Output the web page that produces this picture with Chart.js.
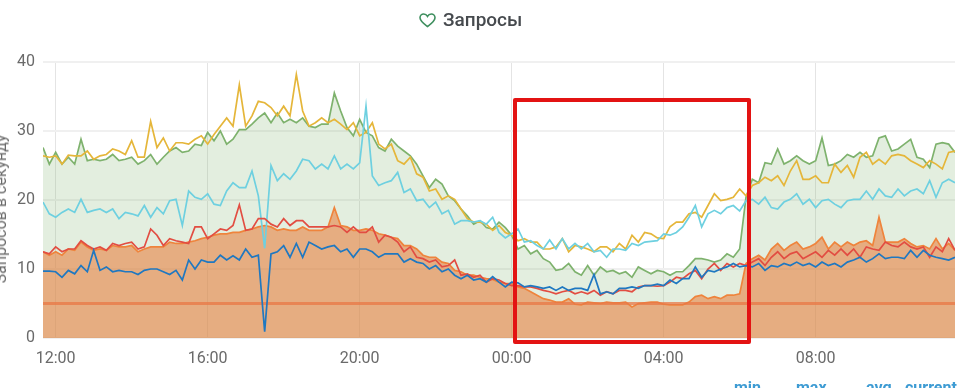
<!DOCTYPE html>
<html lang="ru">
<head>
<meta charset="utf-8">
<title>Запросы</title>
<script src="https://cdn.jsdelivr.net/npm/chart.js@4"></script>
<style>
    html, body { margin: 0; padding: 0; width: 969px; height: 388px; overflow: hidden; background: #fff; font-family: Roboto, sans-serif; }
    #chart-container { position: absolute; left: 0; top: 0; width: 969px; height: 388px; }
    #panel-title { position: absolute; left: 419px; top: 8px; display: flex; align-items: center; gap: 7px; font-size: 19px; font-weight: 500; color: #464a4e; line-height: 24px; }
    #axis-title { position: absolute; left: 1px; top: 209px; font-size: 16px; line-height: 18px; color: #6a6a6a; white-space: nowrap; transform: translate(-50%, -50%) rotate(-90deg); }
    #red-box { position: absolute; left: 513px; top: 98px; width: 230px; height: 238px; border: 4px solid #e31313; border-radius: 2px; }
    .legend-head { position: absolute; top: 379px; font-size: 16px; font-weight: 700; color: #3d9bd3; line-height: 18px; }
</style>
</head>
<body>
<div id="chart-container"><canvas id="mainChart"></canvas></div>
<div id="axis-title">Запросов в секунду</div>
<div id="panel-title">
    <svg width="17" height="15" viewBox="0 0 17 15"><path d="M8.5 13.6 C3 9.6 1 7.4 1 4.8 C1 2.6 2.7 1 4.7 1 C6.2 1 7.7 1.9 8.5 3.3 C9.3 1.9 10.8 1 12.3 1 C14.3 1 16 2.6 16 4.8 C16 7.4 14 9.6 8.5 13.6 Z" fill="none" stroke="#3f8f5f" stroke-width="1.6"/></svg>
    <span>Запросы</span>
</div>
<div id="red-box"></div>
<span class="legend-head" style="left: 734px;">min</span>
<span class="legend-head" style="left: 796px;">max</span>
<span class="legend-head" style="left: 866px;">avg</span>
<span class="legend-head" style="left: 905px;">current</span>
<script>
// minutes since 12:00, sampled every 10 minutes from 11:40
const sampleMinutes = [
    -20, -10, 0, 10, 20, 30, 40, 50, 60, 70, 80, 90, 100, 110, 120, 130, 140, 150, 160, 170,
    180, 190, 200, 210, 220, 230, 240, 250, 260, 270, 280, 290, 300, 310, 320, 330, 340, 350, 360, 370,
    380, 390, 400, 410, 420, 430, 440, 450, 460, 470, 480, 490, 500, 510, 520, 530, 540, 550, 560, 570,
    580, 590, 600, 610, 620, 630, 640, 650, 660, 670, 680, 690, 700, 710, 720, 730, 740, 750, 760, 770,
    780, 790, 800, 810, 820, 830, 840, 850, 860, 870, 880, 890, 900, 910, 920, 930, 940, 950, 960, 970,
    980, 990, 1000, 1010, 1020, 1030, 1040, 1050, 1060, 1070, 1080, 1090, 1100, 1110, 1120, 1130, 1140, 1150, 1160, 1170,
    1180, 1190, 1200, 1210, 1220, 1230, 1240, 1250, 1260, 1270, 1280, 1290, 1300, 1310, 1320, 1330, 1340, 1350, 1360, 1370,
    1380, 1390, 1400, 1410, 1420
];
const tickMinutes = [0, 240, 480, 720, 960, 1200];
const tickLabels = ['12:00', '16:00', '20:00', '00:00', '04:00', '08:00'];
const thresholdMinutes = [-20, 1420];
const thresholdValues = [5, 5];

const greenValues = [
    27.6, 25.2, 26.9, 25.2, 26.2, 25.2, 28.8, 25.7, 25.9, 25.7, 25.9, 26.6, 25.7, 25.9, 26.2, 25.2, 25.7, 26.6, 25.2, 26.2,
    27.1, 27.6, 26.9, 27.1, 28.1, 27.9, 29.8, 28.6, 30, 28.1, 28.8, 30.2, 30.2, 31, 31.9, 32.6, 31.2, 32.6, 31.2, 31.7,
    31.2, 31.9, 30.7, 30.5, 31, 31, 35.5, 32.9, 30.5, 29.3, 31.7, 29.8, 29.3, 27.6, 27.1, 28.8, 27.8, 27.1, 26.4, 25.2,
    23.5, 21.8, 23, 22.3, 20.6, 19.9, 18.7, 17.7, 16.5, 17, 16, 15.8, 16.8, 16, 14.9, 12.9, 13.4, 12.2, 12.7, 11.5,
    11, 9.8, 10, 10.8, 9.6, 9.1, 10.5, 9.1, 10.3, 9.6, 9.8, 9.3, 9.6, 8.8, 10.3, 9.8, 9.3, 9.8, 9.6, 9.1,
    9.6, 9.6, 10.5, 11.5, 11.5, 11.3, 11, 11.3, 12.2, 11.7, 12.9, 20.4, 23, 22.5, 25.4, 25.2, 27.4, 25.2, 25.7, 26.4,
    25.7, 25.2, 25.7, 29, 25, 25.2, 25.7, 26.6, 26.2, 26.9, 26.2, 26.4, 29, 29.3, 27.1, 27.4, 28.1, 28.8, 26.2, 25.9,
    24.7, 28.1, 28.3, 28.1, 26.9
];
const yellowValues = [
    26.4, 26.2, 26.4, 25.2, 26.5, 26.4, 26.4, 27.1, 25.9, 26.4, 26.6, 27.4, 27.1, 26.6, 28.6, 26.2, 26.2, 31.4, 27.6, 29,
    27.1, 28.3, 28.3, 28.1, 28.8, 29.3, 28.1, 29.5, 30.7, 31.9, 30.7, 36.7, 30.7, 32.2, 34.3, 34.1, 33.4, 32.2, 33.6, 32.2,
    38.2, 32.9, 30.7, 31.2, 31.9, 31.2, 31.7, 31, 30.2, 31.2, 29.3, 29.8, 31.2, 28.1, 27.4, 28.1, 25.7, 25.2, 26.2, 23.8,
    23.3, 21.3, 21.6, 20.1, 20.6, 20.1, 18.7, 17.3, 16.8, 16.8, 16.5, 15.6, 16.3, 15.3, 14.9, 14.1, 14.4, 13.9, 13.9, 12.9,
    12.9, 13.2, 14.4, 12.5, 13.4, 13.2, 12.9, 12.5, 13.2, 13.2, 12.5, 13.7, 12.9, 14.9, 13.9, 15.3, 15.1, 14.5, 14.4, 16.1,
    16.8, 16.8, 18, 18.2, 17.5, 19.2, 20.9, 19.9, 20.1, 20.4, 21.6, 20.6, 22.1, 22.5, 23.3, 22.8, 23.5, 22.1, 24.2, 25.7,
    23, 23, 23.5, 22.5, 22.5, 25.2, 24, 25, 23.3, 26.2, 26.9, 25.2, 25.9, 25.2, 26.4, 26.6, 26.4, 25.7, 25.2, 24.7,
    25.7, 25.2, 24.5, 26.9, 27.1
];
const cyanValues = [
    19.7, 18, 17.5, 18.2, 18.7, 18.2, 20.1, 18.2, 18.5, 18.7, 18.2, 18.7, 17.3, 18.2, 18, 17.7, 19.2, 17.5, 18.9, 18,
    19.9, 20.1, 16.3, 21.3, 20.4, 20.1, 20.9, 19.4, 19.2, 21.3, 22.5, 21.8, 21.8, 24.2, 20.6, 13, 25, 22.8, 23.8, 23,
    24.2, 25.9, 25.7, 24.5, 25.2, 24.5, 26.4, 24.5, 25.2, 24.5, 25.4, 33.6, 23.5, 22.1, 22.5, 22.8, 24, 21.1, 21.6, 19.9,
    20.1, 18.9, 19.7, 18, 18.5, 16.5, 17, 17, 16.8, 17, 16.5, 17.5, 15.3, 14.5, 15.1, 15.8, 13.9, 14.1, 13.4, 12.9,
    14.2, 12.9, 14.4, 12.9, 13.7, 12.9, 13.7, 12.5, 12.7, 11.7, 12.9, 12.9, 12.7, 13.7, 13.4, 13.9, 14, 14.1, 15.1, 14.9,
    15.3, 16.1, 17.5, 19.2, 16.1, 18, 18.5, 18, 18.9, 19.2, 18.4, 19.9, 20.1, 19.4, 20.4, 18.9, 18.7, 19.7, 20.1, 20.9,
    19.4, 20.1, 18.9, 19.9, 20.1, 19.4, 18.9, 19.9, 20.1, 20.1, 21.3, 20.1, 21.6, 20.6, 20.4, 21.6, 20.6, 21.3, 21.6, 20.9,
    22.8, 20.4, 22.5, 23, 22.5
];
const orangeValues = [
    12.5, 12, 12.5, 12, 12.9, 12.7, 13.9, 13.2, 12.7, 12.9, 12.7, 13.4, 13.2, 13.2, 13.4, 12.5, 12.9, 13.2, 13.2, 13.2,
    13.9, 13.7, 13.7, 13.9, 14.1, 14.4, 14.6, 14.9, 15.1, 15.1, 15.3, 15.3, 15.6, 15.8, 16.1, 16.3, 16.1, 15.6, 15.8, 15.6,
    15.6, 16.1, 15.6, 15.6, 15.6, 16.1, 18.9, 16.3, 16.1, 15.6, 15.6, 15.8, 15.6, 15.1, 14.9, 14.6, 14.4, 13.4, 13.4, 12.9,
    12, 11.7, 11.7, 11, 10.8, 9.8, 9.6, 9.1, 9.1, 8.8, 8.6, 8.5, 8.1, 7.9, 7.9, 7.4, 7.2, 6.7, 6.2, 5.7,
    5.5, 5.2, 5.2, 5.7, 4.9, 4.8, 5.2, 5.1, 5, 5.2, 5.1, 5.1, 5.2, 4.5, 5, 5.1, 5.2, 5.2, 4.9, 4.8,
    4.8, 4.8, 5.2, 6, 6.2, 5.7, 6, 5.7, 6.2, 6.2, 6.4, 10.8, 11.5, 12, 11.3, 12.9, 13.7, 12.7, 13.4, 13.9,
    12.9, 13.2, 13.7, 14.6, 12.9, 13.9, 13.2, 13.9, 13.4, 13.9, 14.1, 13.4, 17.5, 13.9, 13.9, 13.9, 14.4, 13.7, 13.2, 13.4,
    12.9, 14.4, 12.9, 13.7, 12.7
];
const redValues = [
    12.5, 12.2, 13.2, 12.5, 12.9, 12.9, 14.1, 13.4, 12.9, 13.2, 12.7, 13.7, 13.4, 13.7, 13.9, 12.9, 13.2, 15.8, 14.9, 13.4,
    14.4, 14.1, 13.9, 13.7, 16.1, 16.1, 14.4, 15.1, 15.8, 15.6, 16.3, 19.3, 15.6, 15.8, 17.3, 17.3, 16.5, 16.1, 17.3, 16.3,
    17, 17, 16.1, 16.1, 16.1, 16.1, 16.3, 16.1, 15.3, 16.1, 15.3, 15.3, 16.1, 13.9, 14.9, 14.6, 13.9, 12.5, 13.2, 11.7,
    11.5, 11, 11.3, 10.3, 10.5, 11.3, 9.1, 9.3, 8.8, 9.1, 8.1, 8.6, 8.4, 7.9, 7.6, 7.6, 7.4, 7.4, 7.2, 6.9,
    6.7, 6.4, 6.7, 6.9, 6.4, 6.7, 6.4, 6.9, 6.2, 6.7, 6.4, 6.9, 6.9, 6.7, 7.4, 7.6, 7.6, 7.5, 7.6, 8.1,
    8.8, 8.6, 9.3, 9.8, 8.6, 10, 10.8, 9.8, 10.8, 10.3, 10.8, 10.5, 11, 11.5, 10.5, 11.7, 12.5, 11.5, 12.2, 12.5,
    11.5, 12, 12.5, 11.7, 12.7, 12, 12.9, 12, 12.9, 11.7, 13.2, 12.9, 12.7, 13.9, 13.4, 13.2, 13.9, 13.2, 12.9, 13.2,
    11.7, 13.2, 12.5, 14.4, 12.7
];
const blueValues = [
    9.7, 9.7, 9.6, 8.8, 9.8, 9.3, 10.5, 9.6, 12.7, 9.8, 10.3, 9.6, 9.8, 9.6, 9.6, 9.2, 9.8, 10, 10, 9.6,
    9.2, 9.8, 8.4, 11.3, 10, 11.3, 11, 11, 12, 11.3, 11.9, 11.3, 12.9, 11.7, 12, 0.9, 12.2, 12.5, 13.4, 11.7,
    13.7, 11.7, 13.9, 13.4, 12.9, 13.2, 13.4, 12.5, 12.9, 11.7, 12.9, 12.9, 12.5, 11.7, 12.2, 12.2, 12.2, 11, 11.5, 11,
    10.8, 10, 10.5, 9.6, 10, 9.1, 8.6, 9.1, 8.4, 8.6, 8.1, 8.9, 8.1, 7.4, 8.1, 8, 7.4, 7.6, 7.4, 7.2,
    7.4, 6.9, 7.4, 6.9, 7.2, 7.2, 6.9, 9.2, 6.4, 6.7, 6.4, 7.2, 7.2, 7.4, 7.2, 7.6, 7.6, 7.8, 7.6, 8.4,
    7.9, 8.6, 8.6, 10.3, 8.8, 9.8, 9.6, 10, 10.3, 10.8, 10.3, 10.5, 10.3, 10.8, 9.8, 10.5, 10.3, 10.8, 10.5, 11,
    10.5, 10.8, 10.3, 11, 10.5, 10.8, 10.3, 11, 11.3, 11.7, 11, 11.5, 12.2, 11.5, 11.7, 11.7, 11.5, 12.7, 11.7, 12.7,
    12, 11.7, 11.5, 11.3, 11.7
];

function toPoints(xs, ys) {
    return ys.map((y, i) => ({ x: xs[i], y: y }));
}

const ctx = document.getElementById('mainChart').getContext('2d');
new Chart(ctx, {
    type: 'line',
    data: {
        datasets: [
            { label: 'green', data: toPoints(sampleMinutes, greenValues), borderColor: '#7EB26D', backgroundColor: 'rgba(126, 178, 109, 0.22)', fill: 'origin', order: 6 },
            { label: 'orange', data: toPoints(sampleMinutes, orangeValues), borderColor: '#EF843C', backgroundColor: 'rgba(232, 130, 66, 0.6)', fill: 'origin', order: 5 },
            { label: 'threshold', data: toPoints(thresholdMinutes, thresholdValues), borderColor: 'rgba(232, 120, 70, 0.75)', borderWidth: 3, order: 4 },
            { label: 'yellow', data: toPoints(sampleMinutes, yellowValues), borderColor: '#E5B63A', order: 3 },
            { label: 'cyan', data: toPoints(sampleMinutes, cyanValues), borderColor: '#6ED0E0', order: 2 },
            { label: 'red', data: toPoints(sampleMinutes, redValues), borderColor: '#E24D42', order: 1 },
            { label: 'blue', data: toPoints(sampleMinutes, blueValues), borderColor: '#1F78C1', order: 0 }
        ]
    },
    options: {
        responsive: true,
        maintainAspectRatio: false,
        animation: false,
        layout: { padding: { top: 62, right: 14 } },
        elements: { point: { radius: 0 }, line: { borderWidth: 1.7, tension: 0 } },
        plugins: { legend: { display: false }, tooltip: { enabled: false } },
        scales: {
            x: {
                type: 'linear',
                min: -20,
                max: 1420,
                grid: { color: '#e4e4e4', lineWidth: 1, drawTicks: false },
                border: { display: false },
                afterBuildTicks: (axis) => { axis.ticks = tickMinutes.map((v) => ({ value: v })); },
                afterFit: (axis) => { axis.height = 50; },
                ticks: {
                    autoSkip: false,
                    maxRotation: 0,
                    padding: 11,
                    color: '#6a6a6a',
                    font: { family: 'Roboto', size: 16 },
                    callback: (v) => tickLabels[tickMinutes.indexOf(v)]
                }
            },
            y: {
                min: 0,
                max: 40,
                grid: { color: '#f0f0f0', lineWidth: 2, drawTicks: false },
                border: { display: false },
                afterFit: (axis) => { axis.width = 43; },
                ticks: {
                    stepSize: 10,
                    padding: 8,
                    color: '#6a6a6a',
                    font: { family: 'Roboto', size: 16 }
                }
            }
        }
    }
});
</script>
</body>
</html>
